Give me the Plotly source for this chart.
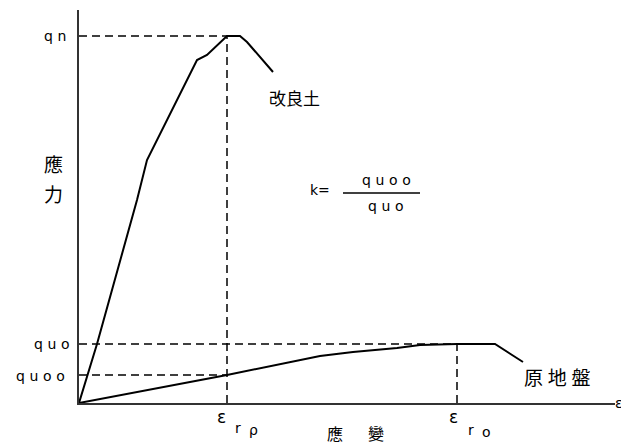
import plotly.graph_objects as go

# Improved soil (改良土) stress-strain curve
improved_strain = [0, 0.18, 0.58, 0.68, 1.18, 1.28, 1.48, 1.61, 1.68, 1.94]
improved_stress = [0, 59, 203, 243, 343, 348, 367, 367, 361, 331]

# Original ground (原地盤) stress-strain curve
ground_strain = [0, 1.48, 2.41, 2.74, 3.18, 3.41, 3.78, 4.16, 4.44]
ground_stress = [0, 28, 47, 51, 55, 58, 59, 59, 41]

# Reference levels
q_peak = 367      # qn
q_uo = 59         # quo
q_uoo = 28        # quoo
eps_rp = 1.48
eps_ro = 3.78

X_MAX = 5.36
Y_MAX = 393

fig = go.Figure()

dline = dict(color="black", width=1.5, dash="8px,5px")

# dashed guide lines
fig.add_trace(go.Scatter(x=[0, eps_rp], y=[q_peak, q_peak], mode="lines", line=dline, hoverinfo="skip"))
fig.add_trace(go.Scatter(x=[eps_rp, eps_rp], y=[0, q_peak], mode="lines", line=dline, hoverinfo="skip"))
fig.add_trace(go.Scatter(x=[0, eps_ro], y=[q_uo, q_uo], mode="lines", line=dline, hoverinfo="skip"))
fig.add_trace(go.Scatter(x=[eps_ro, eps_ro], y=[0, q_uo], mode="lines", line=dline, hoverinfo="skip"))
fig.add_trace(go.Scatter(x=[0, eps_rp], y=[q_uoo, q_uoo], mode="lines", line=dline, hoverinfo="skip"))

# curves
fig.add_trace(go.Scatter(x=improved_strain, y=improved_stress, mode="lines",
                         line=dict(color="black", width=2), name="改良土"))
fig.add_trace(go.Scatter(x=ground_strain, y=ground_stress, mode="lines",
                         line=dict(color="black", width=2), name="原地盤"))

SP = "\u2004"
latin = dict(family="DejaVu Sans", size=14, color="black")
eps_font = dict(family="DejaVu Sans", size=17, color="black")
cjk = dict(family="Noto Sans CJK JP", size=17, color="black")
cjk_big = dict(family="Noto Sans CJK JP", size=19, color="black")
cjk_bottom = dict(family="Noto Sans CJK JP", size=16, color="black")

ann = []
def A(text, x, y, font, xanchor="center", yanchor="middle"):
    ann.append(dict(text=text, x=x / X_MAX, y=y / Y_MAX, xref="paper", yref="paper",
                    showarrow=False, xanchor=xanchor, yanchor=yanchor, font=font))

def spaced(s):
    return SP.join(s)

A(spaced("qn"), -0.11, q_peak, latin, xanchor="right")
A(spaced("quo"), -0.07, q_uo, latin, xanchor="right")
A(spaced("quoo"), -0.12, q_uoo - 1, latin, xanchor="right")
A("應", -0.26, 240, cjk_big)
A("力", -0.26, 210, cjk_big)
A("改良土", 1.88, 306, cjk, xanchor="left")
A("原\u2005地\u2005盤", 4.43, 27, cjk_big, xanchor="left")
A("k=", 2.29, 213, latin, xanchor="left")
A(spaced("quoo"), 3.07, 223, latin)
A(spaced("quo"), 3.07, 197, latin)
A("ε", 1.42, -14, eps_font)
A("r", 1.59, -25, latin)
A("ρ", 1.75, -27, latin)
A("ε", 3.74, -14, eps_font)
A("r", 3.92, -27, latin)
A("o", 4.07, -29, latin)
A("應", 2.56, -30, cjk_bottom)
A("變", 2.97, -30, cjk_bottom)
A("ε", 5.40, 0, latin)

fig.update_layout(
    width=621, height=437,
    margin=dict(l=71, r=14, t=2, b=42, pad=0),
    paper_bgcolor="white", plot_bgcolor="white",
    showlegend=False,
    annotations=ann,
    shapes=[dict(type="line", xref="x", yref="y", x0=2.64, x1=3.41, y0=210, y1=210,
                 line=dict(color="black", width=1.5))],
    xaxis=dict(range=[0, X_MAX], showgrid=False, zeroline=False, showticklabels=False,
               ticks="", showline=True, linecolor="#333", linewidth=2, fixedrange=True),
    yaxis=dict(range=[0, Y_MAX], showgrid=False, zeroline=False, showticklabels=False,
               ticks="", showline=True, linecolor="#333", linewidth=2, fixedrange=True),
)

fig.write_html("out.html")
